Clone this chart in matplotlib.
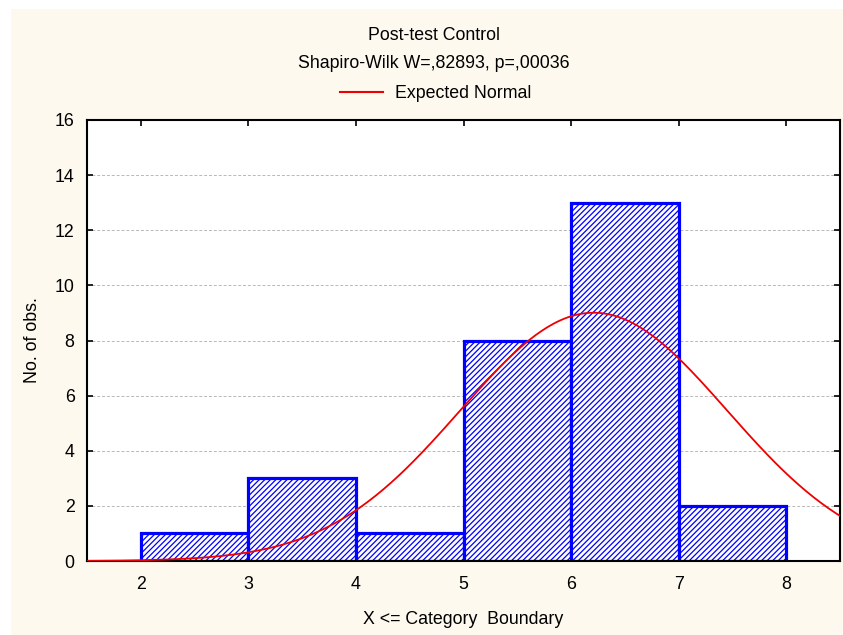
import numpy as np
import matplotlib.pyplot as plt
from matplotlib.patches import Rectangle
from matplotlib.lines import Line2D

# histogram data (upper category boundaries)
bin_edges = [2, 3, 4, 5, 6, 7, 8]
counts = [1, 3, 1, 8, 13, 2]
n_obs = sum(counts)

# expected normal parameters (estimated from the curve)
mu = 6.21
sigma = 1.24

title = "Post-test Control"
subtitle = "Shapiro-Wilk W=,82893, p=,00036"
xlabel = "X <= Category  Boundary"
ylabel = "No. of obs."

plt.rcParams['font.family'] = ['Liberation Sans', 'DejaVu Sans']
plt.rcParams['hatch.color'] = '#4a4aff'
plt.rcParams['hatch.linewidth'] = 0.9

fs = 12.8
W, H = 843, 635
fig = plt.figure(figsize=(W / 100, H / 100), dpi=100, facecolor='white')
fig.patches.append(Rectangle((11 / W, 0), 1, 1 - 9 / H, transform=fig.transFigure,
                             facecolor='#fdf9ef', edgecolor='none', zorder=-1))

ax = fig.add_axes([87 / W, 1 - 561 / H, (840 - 87) / W, (561 - 120) / H])
ax.set_facecolor('white')

widths = np.diff(bin_edges)
ax.bar(bin_edges[:-1], counts, width=widths, align='edge', facecolor='white',
       edgecolor='#0000ff', linewidth=2.3, hatch='//////', zorder=2)

x = np.linspace(1.5, 8.5, 400)
binw = 1.0
y = n_obs * binw / (sigma * np.sqrt(2 * np.pi)) * np.exp(-0.5 * ((x - mu) / sigma) ** 2)
ax.plot(x, y, color='#ee0000', linewidth=1.3, zorder=3)

ax.set_xlim(1.5, 8.5)
ax.set_ylim(0, 16)
ax.set_xticks(bin_edges)
ax.set_yticks(np.arange(0, 17, 2))
ax.yaxis.grid(True, color='#b8b8b8', linestyle=(0, (3, 2)), linewidth=0.7)
ax.set_axisbelow(True)
ax.tick_params(direction='in', length=4, width=1.2, labelsize=fs, top=True, right=True)
ax.tick_params(axis='x', pad=11)
ax.tick_params(axis='y', pad=9)
for s in ax.spines.values():
    s.set_linewidth(1.5)

ax.set_xlabel(xlabel, fontsize=fs, va='center')
ax.xaxis.set_label_coords(0.5, -(620 - 561) / (561 - 120))
ax.set_ylabel(ylabel, fontsize=fs, va='center')
ax.yaxis.set_label_coords(-(87 - 33) / (840 - 87), 0.5)

fig.text(434 / W, 1 - 35 / H, title, ha='center', va='center', fontsize=fs)
fig.text(434 / W, 1 - 64 / H, subtitle, ha='center', va='center', fontsize=fs)
handle = Line2D([], [], color='#ee0000', linewidth=1.5)
fig.legend([handle], ['Expected Normal'], loc='center', bbox_to_anchor=(436 / W, 1 - 94 / H),
           frameon=False, fontsize=fs, handlelength=2.4, handletextpad=0.7)

fig.savefig('out.png', dpi=100, facecolor=fig.get_facecolor())
